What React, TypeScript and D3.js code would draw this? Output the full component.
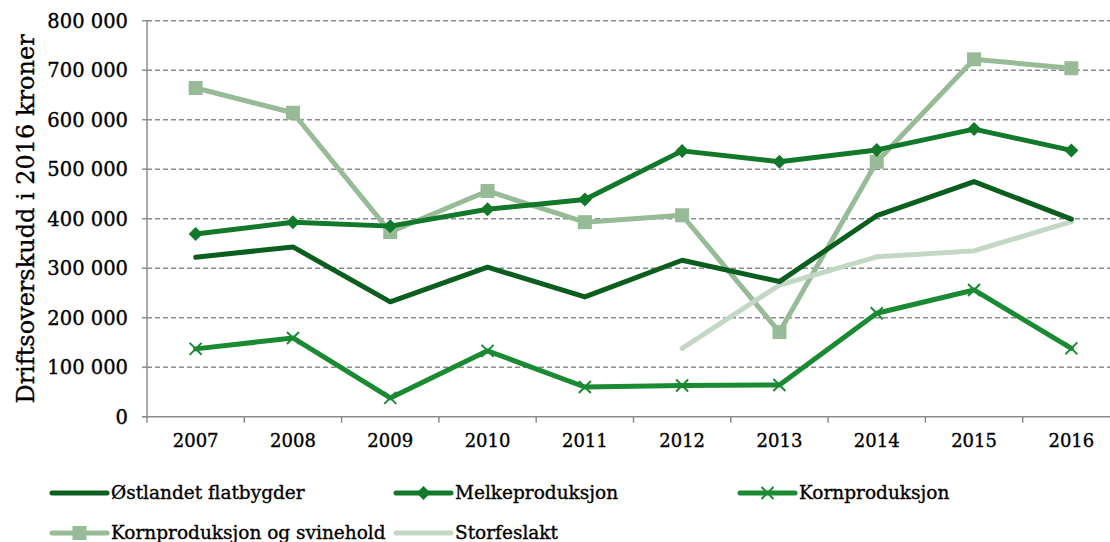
import React from "react";
import * as d3 from "d3";

const years = ["2007","2008","2009","2010","2011","2012","2013","2014","2015","2016"];
const ostlandet = [322000, 343000, 232000, 302000, 242000, 316000, 273000, 406000, 475000, 399000];
const melke = [369000, 393000, 385000, 419000, 439000, 537000, 515000, 539000, 581000, 538000];
const korn = [137000, 159000, 38000, 133000, 60000, 63000, 64000, 209000, 256000, 138000];
const svin = [664000, 614000, 373000, 456000, 393000, 407000, 171000, 515000, 722000, 704000];
const storfe: (number | null)[] = [null, null, null, null, null, 138000, 266000, 323000, 335000, 394000];
const yTicks = [0, 100000, 200000, 300000, 400000, 500000, 600000, 700000, 800000];

type Series = { name: string; values: (number | null)[]; color: string; marker: "none" | "diamond" | "x" | "square" };
const series: Series[] = [
  { name: "Østlandet flatbygder", values: ostlandet, color: "#0b5e1e", marker: "none" },
  { name: "Melkeproduksjon", values: melke, color: "#12782a", marker: "diamond" },
  { name: "Kornproduksjon", values: korn, color: "#1a8a33", marker: "x" },
  { name: "Kornproduksjon og svinehold", values: svin, color: "#97bb97", marker: "square" },
  { name: "Storfeslakt", values: storfe, color: "#c4d7c4", marker: "none" },
];
const drawOrder = [3, 4, 0, 1, 2];

const fmt = (v: number) => d3.format(",")(v).replace(/,/g, " ");
const FONT = "'DejaVu Serif', serif";
const TXT = { fontFamily: FONT, fill: "#000", stroke: "#000", strokeWidth: 0.35 };

function Marker({ kind, x, y, color }: { kind: string; x: number; y: number; color: string }) {
  if (kind === "diamond") {
    const s = 7;
    return <path d={`M${x},${y - s}L${x + s},${y}L${x},${y + s}L${x - s},${y}Z`} fill={color} />;
  }
  if (kind === "square") {
    const s = 7;
    return <rect x={x - s} y={y - s} width={2 * s} height={2 * s} fill={color} />;
  }
  if (kind === "x") {
    const s = 6;
    return <path d={`M${x - s},${y - s}L${x + s},${y + s}M${x - s},${y + s}L${x + s},${y - s}`} stroke={color} strokeWidth={2} />;
  }
  return null;
}

export default function App() {
  const W = 1110, H = 542;
  const x0 = 147, x1 = 1120;
  const x = d3.scaleBand<string>().domain(years).range([x0, x1]);
  const y = d3.scaleLinear().domain([0, 800000]).range([416.7, 20.7]);
  const cx = (d: string) => (x(d) as number) + x.bandwidth() / 2;
  const line = d3.line<[string, number | null]>()
    .defined((d) => d[1] !== null)
    .x((d) => cx(d[0]))
    .y((d) => y(d[1] as number));

  const legendPos = [
    { lx: 52, ly: 493 },
    { lx: 396, ly: 493 },
    { lx: 740, ly: 493 },
    { lx: 52, ly: 533 },
    { lx: 396, ly: 533 },
  ];

  return (
    <svg width={W} height={H} style={{ position: "absolute", left: 0, top: 0, background: "#fff" }}>
      {yTicks.filter((t) => t > 0).map((t) => (
        <line key={t} x1={x0} x2={W} y1={y(t)} y2={y(t)} stroke="#8a8a8a" strokeWidth={1.5} strokeDasharray="5,3" />
      ))}
      <line x1={x0} x2={x0} y1={y(800000)} y2={y(0)} stroke="#8c8c8c" strokeWidth={1.5} />
      <line x1={x0 - 5} x2={W} y1={y(0)} y2={y(0)} stroke="#8c8c8c" strokeWidth={1.5} />
      {yTicks.map((t) => (
        <g key={t}>
          <line x1={x0 - 5} x2={x0} y1={y(t)} y2={y(t)} stroke="#8c8c8c" strokeWidth={1.5} />
          <text x={128} y={y(t)} dy="0.35em" textAnchor="end" fontSize={19.5} {...TXT}>{fmt(t)}</text>
        </g>
      ))}
      {years.map((yr) => (
        <g key={yr}>
          <line x1={x(yr) as number} x2={x(yr) as number} y1={y(0)} y2={y(0) + 6} stroke="#8c8c8c" strokeWidth={1.5} />
          <text x={cx(yr)} y={447} textAnchor="middle" fontSize={18} {...TXT}>{yr}</text>
        </g>
      ))}
      <text transform={`translate(34,219) rotate(-90)`} textAnchor="middle" fontSize={24} {...TXT}>
        Driftsoverskudd i 2016 kroner
      </text>
      {drawOrder.map((i) => {
        const s = series[i];
        const pts = years.map((yr, j) => [yr, s.values[j]] as [string, number | null]);
        return (
          <g key={s.name}>
            <path d={line(pts) || ""} fill="none" stroke={s.color} strokeWidth={5} strokeLinejoin="round" strokeLinecap="round" />
            {pts.filter((p) => p[1] !== null).map((p) => (
              <Marker key={p[0]} kind={s.marker} x={cx(p[0])} y={y(p[1] as number)} color={s.color} />
            ))}
          </g>
        );
      })}
      {series.map((s, i) => {
        const { lx, ly } = legendPos[i];
        return (
          <g key={s.name}>
            <line x1={lx} x2={lx + 55} y1={ly} y2={ly} stroke={s.color} strokeWidth={5} strokeLinecap="round" />
            <Marker kind={s.marker} x={lx + 27.5} y={ly} color={s.color} />
            <text x={lx + 59} y={ly} dy="0.35em" fontSize={18.5} {...TXT}>{s.name}</text>
          </g>
        );
      })}
    </svg>
  );
}
